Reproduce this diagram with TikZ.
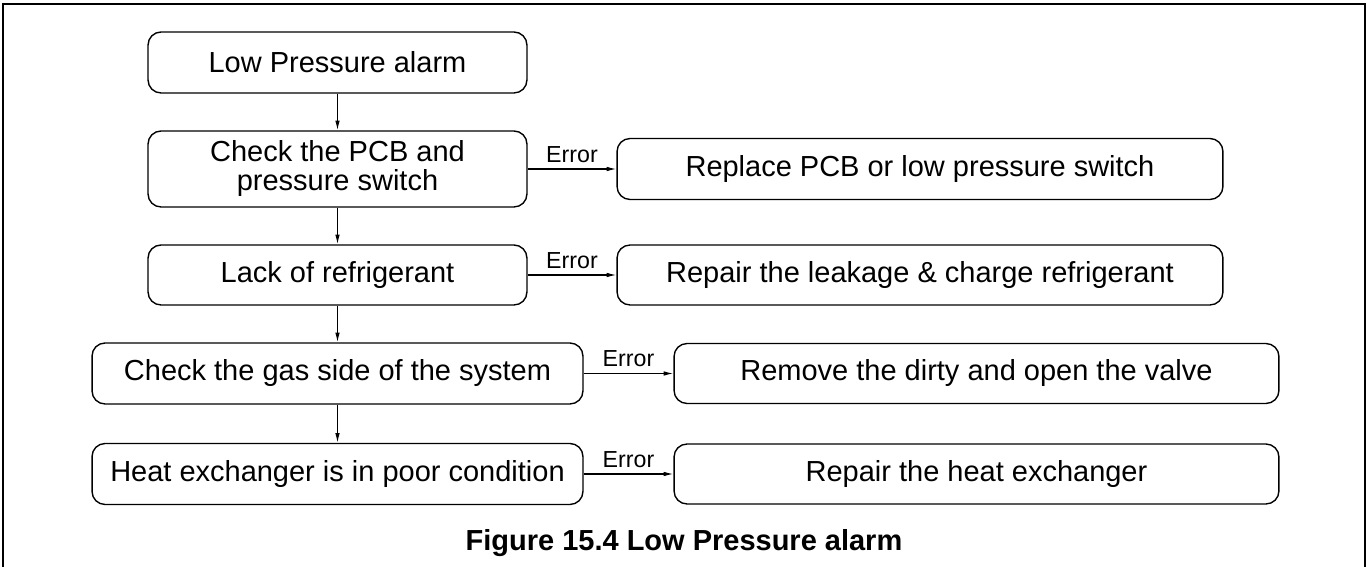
\documentclass[tikz,border=0pt]{standalone}
\usepackage{fontspec}
\setmainfont{Liberation Sans}
\usetikzlibrary{arrows.meta}

\newcommand*{\wmax}{1367}
\newcommand*{\hmax}{567}
\newcommand*{\colL}{337.5}
\newcommand*{\colR}{920}
\newcommand*{\colRR}{976.5}

\begin{document}
\begin{tikzpicture}
[
	stepnode/.style={draw,rounded corners=0.26cm,line width=0.8pt,align=center,inner sep=0pt,font=\fontsize{16.5}{16.5}\selectfont},
	errlabel/.style={above,font=\fontsize{13.2}{13.2}\selectfont},
	flow/.style={->,line width=0.65pt},
	>={Latex[length=5.5pt,width=2.6pt]},
	x=0.02cm,
	y=-0.02cm
]
	\useasboundingbox (0,0) rectangle (\wmax,\hmax);

	% frame
	\draw[line width=1.4pt] (3,\hmax) -- (3,4) -- (1365,4) -- (1365,\hmax);

	% checks
	\node[stepnode,minimum width=7.58cm,minimum height=1.22cm] (alarm) at (\colL,62.5) {Low Pressure alarm};
	\node[stepnode,minimum width=7.58cm,minimum height=1.52cm] (pcb) at (\colL,169) {Check the PCB and\\pressure switch};
	\node[stepnode,minimum width=7.58cm,minimum height=1.2cm] (refr) at (\colL,275) {Lack of refrigerant};
	\node[stepnode,minimum width=9.82cm,minimum height=1.22cm] (gas) at (\colL,373.5) {Check the gas side of the system};
	\node[stepnode,minimum width=9.82cm,minimum height=1.22cm] (hex) at (\colL,474) {Heat exchanger is in poor condition};

	% remedies
	\node[stepnode,minimum width=12.12cm,minimum height=1.22cm] (replace) at (\colR,169) {Replace PCB or low pressure switch};
	\node[stepnode,minimum width=12.12cm,minimum height=1.2cm] (leak) at (\colR,275) {Repair the leakage \& charge refrigerant};
	\node[stepnode,minimum width=12.1cm,minimum height=1.2cm] (valve) at (\colRR,373.5) {Remove the dirty and open the valve};
	\node[stepnode,minimum width=12.1cm,minimum height=1.2cm] (repair) at (\colRR,474) {Repair the heat exchanger};

	% arrows
	\foreach \a/\b in {alarm/pcb,pcb/refr,refr/gas,gas/hex} {
		\draw[flow] (\a) -- (\b);
	}
	\foreach \a/\b in {pcb/replace,refr/leak,gas/valve,hex/repair} {
		\draw[flow] (\a) -- node[errlabel] {Error} (\b);
	}

	% caption
	\node[font=\bfseries\fontsize{16.5}{16.5}\selectfont] (caption) at (684,543) {Figure 15.4 Low Pressure alarm};

\end{tikzpicture}
\end{document}
